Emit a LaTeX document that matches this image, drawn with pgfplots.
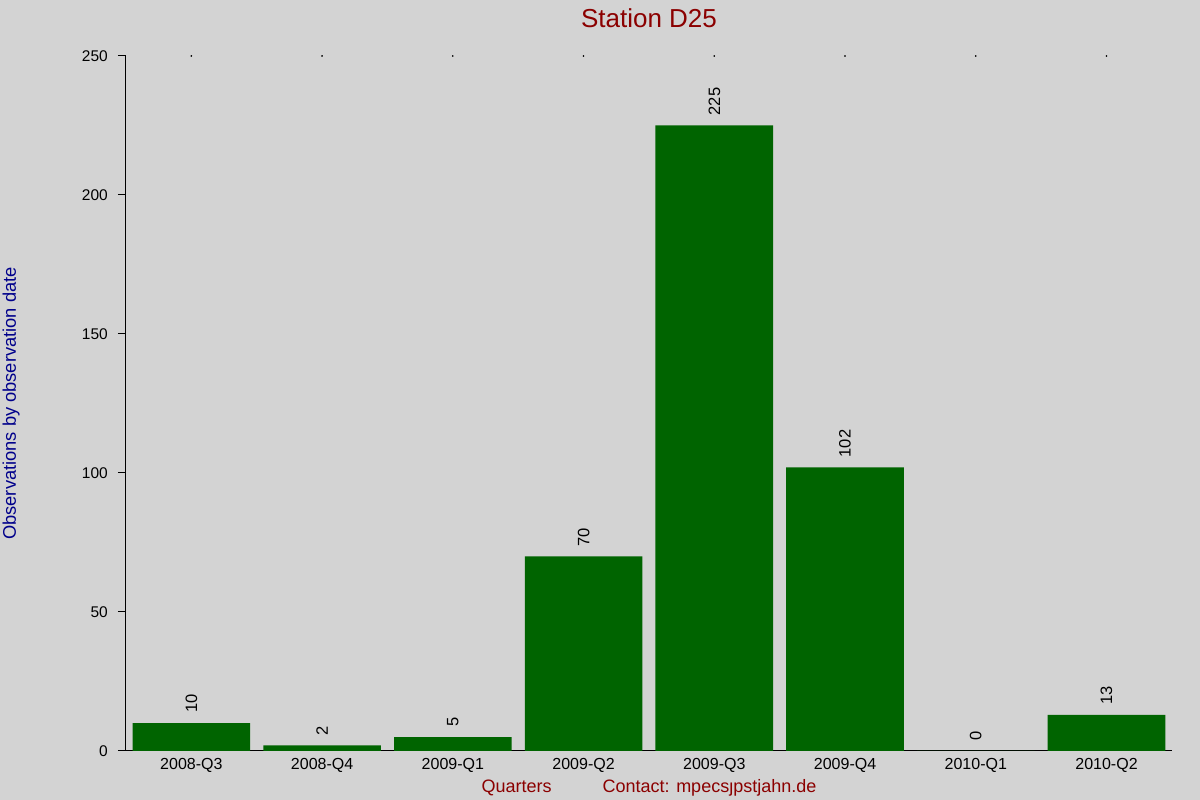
\documentclass[border=0pt]{standalone}
\usepackage{fontspec}
\setmainfont{Liberation Sans}
\usepackage{pgfplots}
\pgfplotsset{compat=1.18}
\definecolor{bg}{HTML}{D3D3D3}
\definecolor{bargreen}{HTML}{006400}
\definecolor{titlered}{HTML}{8B0000}
\definecolor{labelblue}{HTML}{00008B}
\begin{document}
\begin{tikzpicture}
\fill[bg] (0,0) rectangle (1200pt,800pt);
\useasboundingbox (0,0) rectangle (1200pt,800pt);
\begin{axis}[
  at={(126pt,49pt)}, anchor=south west,
  scale only axis,
  width=1046pt, height=695pt,
  xmin=-0.5, xmax=7.5,
  ymin=0, ymax=250,
  axis x line=bottom,
  axis y line=left,
  axis line style={black, line width=1pt, -},
  xtick={0,...,7},
  xticklabels={2008-Q3,2008-Q4,2009-Q1,2009-Q2,2009-Q3,2009-Q4,2010-Q1,2010-Q2},
  xtick style={draw=none},
  ytick={0,50,...,250},
  ytick style={black, line width=1pt},
  tick align=outside,
  major tick length=8pt,
  /pgf/number format/assume math mode=true,
  xticklabel style={font=\fontsize{16}{19}\selectfont, anchor=base, yshift=-11pt},
  yticklabel style={font=\fontsize{15.5}{18}\selectfont, anchor=east, inner sep=0pt, xshift=-10pt},
  title={Station D25},
  title style={font=\fontsize{26}{30}\selectfont, text=titlered, at={(rel axis cs:0.5,1)}, anchor=center, yshift=32pt},
  xlabel={Quarters\hspace{51pt}Contact: mpecsȷpstjahn.de},
  xlabel style={font=\fontsize{18}{21}\selectfont, text=titlered, at={(rel axis cs:0.5,0)}, anchor=base, yshift=-42pt},
  ylabel={Observations by observation date},
  ylabel style={font=\fontsize{18.3}{21}\selectfont, text=labelblue, at={(rel axis cs:-0.1099,0.5)}, anchor=center},
  clip=false,
]
\addplot[ybar, bar width=0.9, fill=bargreen, draw=none,
  nodes near coords,
  every node near coord/.append style={font=\fontsize{16.5}{19}\selectfont, black, rotate=90, anchor=west, inner sep=0pt, xshift=10pt}
] coordinates {
  (0,10) (1,2) (2,5) (3,70) (4,225) (5,102) (6,0) (7,13)
};
\addplot[only marks, mark=*, mark size=0.6pt, black] coordinates {
  (0,250) (1,250) (2,250) (3,250) (4,250) (5,250) (6,250) (7,250)
};
\end{axis}
\end{tikzpicture}
\end{document}
